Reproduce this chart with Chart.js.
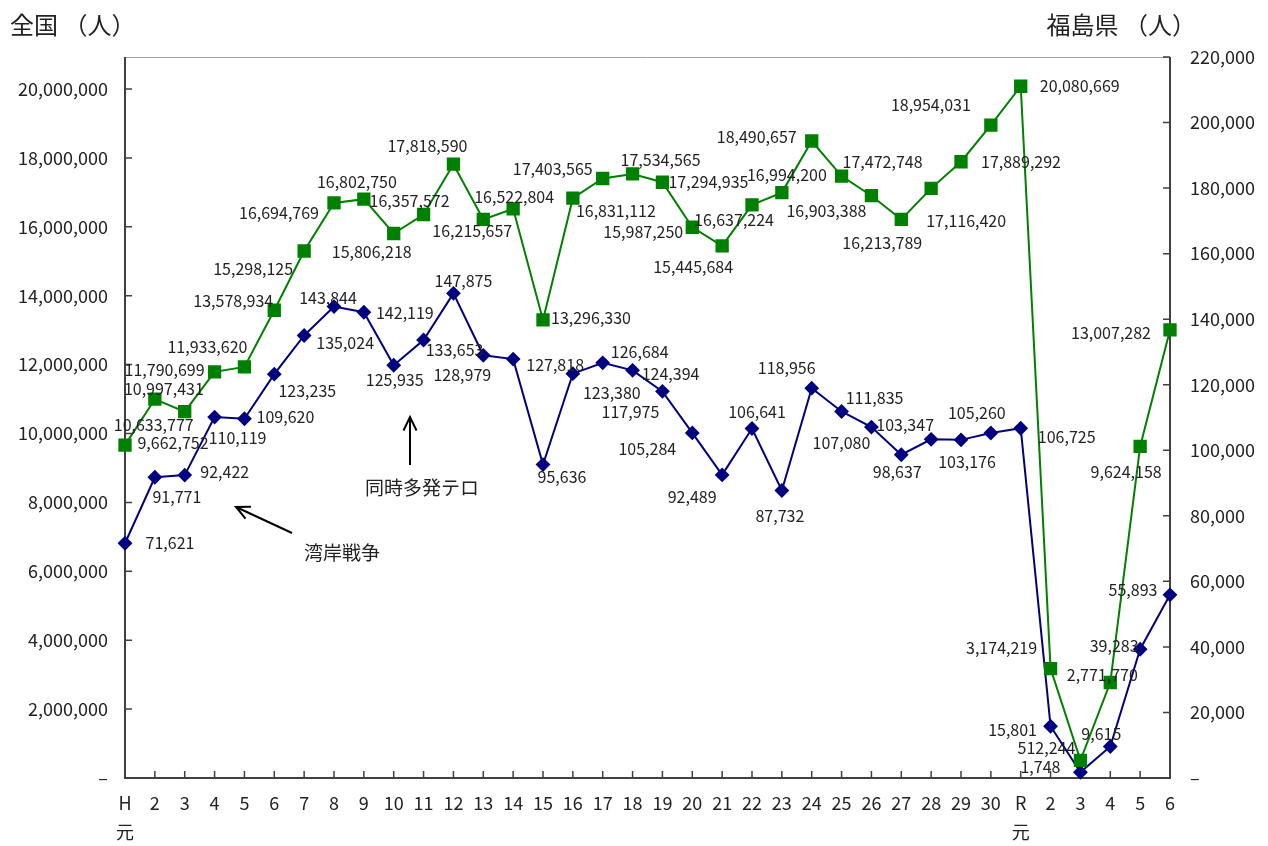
<!DOCTYPE html>
<html>
<head>
<meta charset="utf-8">
<script src="https://cdn.jsdelivr.net/npm/chart.js@4.4.1/dist/chart.umd.min.js"></script>
<style>
  html, body { margin: 0; padding: 0; background: #fff; }
  #wrap { width: 1268px; height: 846px; }
</style>
</head>
<body>
<div id="wrap"><canvas id="chart"></canvas></div>
<script>
// 年度 (平成元年〜令和6年)
const years = [['H', '元'], '2', '3', '4', '5', '6', '7', '8', '9', '10',
  '11', '12', '13', '14', '15', '16', '17', '18', '19', '20',
  '21', '22', '23', '24', '25', '26', '27', '28', '29', '30',
  ['R', '元'], '2', '3', '4', '5', '6'];

// 全国 (人) - left axis
const national = [9662752, 10997431, 10633777, 11790699, 11933620, 13578934, 15298125, 16694769, 16802750, 15806218,
  16357572, 17818590, 16215657, 16522804, 13296330, 16831112, 17403565, 17534565, 17294935, 15987250,
  15445684, 16637224, 16994200, 18490657, 17472748, 16903388, 16213789, 17116420, 17889292, 18954031,
  20080669, 3174219, 512244, 2771770, 9624158, 13007282];

// 福島県 (人) - right axis
const fukushima = [71621, 91771, 92422, 110119, 109620, 123235, 135024, 143844, 142119, 125935,
  133653, 147875, 128979, 127818, 95636, 123380, 126684, 124394, 117975, 105284,
  92489, 106641, 87732, 118956, 111835, 107080, 98637, 103347, 103176, 105260,
  106725, 15801, 1748, 9615, 39283, 55893];

// axis tick values
const leftTicks = [0, 2000000, 4000000, 6000000, 8000000, 10000000, 12000000, 14000000, 16000000, 18000000, 20000000];
const rightTicks = [0, 20000, 40000, 60000, 80000, 100000, 120000, 140000, 160000, 180000, 200000, 220000];
const leftMax = 20930000, rightMax = 220000;

// where each value label sits relative to its marker (px)
const natLabelDx = [48, 9, -31, -50, -37, -41, -51, -55, -7, -22, -14, -26, -11, 1, 48, 43, -50, 28, 46, -49,
  -29, -18, 5, -55, 41, -45, -19, 35, 60, -60, 59, -49, -34, -8, -14, -59];
const natLabelDy = [-2, -10, 13, -2, -20, -9, 18, 10, -17, 18, -14, -18, 12, -12, -2, 13, -10, -14, 0, 5,
  21, 15, -18, -4, -14, 15, 23, 33, 0, -20, 0, -21, -12, -8, 25, 3];
const fukLabelDx = [45, 22, 40, 23, 41, 33, 41, -6, 41, 1, 31, 10, -21, 42, 19, 39, 37, 38, -32, -45,
  -30, 5, -2, -25, 33, -30, -4, -26, 6, -14, 46, -38, -40, -9, -26, -37];
const fukLabelDy = [0, 20, -3, 21, -2, 17, 7, -9, 1, 15, 10, -12, 20, 6, 12, 19, -11, 4, 21, 16,
  22, -17, 25, -20, -14, 16, 17, -14, 22, -20, 9, 4, -5, -13, -3, -5];

const FONT = '"Noto Sans CJK JP", "Noto Sans", sans-serif';
const fmt = v => v === 0 ? '–' : v.toLocaleString('en-US');

function arrow(ctx, x1, y1, x2, y2) {
  const a = Math.atan2(y2 - y1, x2 - x1), len = 15, sp = 0.45;
  ctx.beginPath();
  ctx.moveTo(x1, y1);
  ctx.lineTo(x2, y2);
  ctx.moveTo(x2 - len * Math.cos(a - sp), y2 - len * Math.sin(a - sp));
  ctx.lineTo(x2, y2);
  ctx.lineTo(x2 - len * Math.cos(a + sp), y2 - len * Math.sin(a + sp));
  ctx.stroke();
}

const overlay = {
  id: 'overlay',
  beforeDatasetsDraw(chart) {
    const { ctx, chartArea: a, scales } = chart;
    ctx.save();
    ctx.strokeStyle = '#a0a0a0';
    ctx.lineWidth = 1;
    ctx.beginPath();
    ctx.moveTo(a.left, a.top + 0.5);
    ctx.lineTo(a.right, a.top + 0.5);
    ctx.stroke();
    ctx.strokeStyle = '#404040';
    ctx.lineWidth = 2;
    ctx.beginPath();
    ctx.moveTo(a.left, a.top);
    ctx.lineTo(a.left, a.bottom);
    ctx.lineTo(a.right, a.bottom);
    ctx.lineTo(a.right, a.top);
    ctx.stroke();
    ctx.lineWidth = 1.5;
    ctx.beginPath();
    scales.y.ticks.forEach(t => {
      const y = scales.y.getPixelForValue(t.value);
      ctx.moveTo(a.left, y); ctx.lineTo(a.left + 7, y);
    });
    scales.y2.ticks.forEach(t => {
      const y = scales.y2.getPixelForValue(t.value);
      ctx.moveTo(a.right, y); ctx.lineTo(a.right - 7, y);
    });
    years.forEach((_, i) => {
      const x = scales.x.getPixelForValue(i);
      ctx.moveTo(x, a.bottom); ctx.lineTo(x, a.bottom - 7);
    });
    ctx.stroke();
    ctx.restore();
  },
  afterDatasetsDraw(chart) {
    const ctx = chart.ctx;
    ctx.save();
    ctx.font = '16px ' + FONT;
    ctx.fillStyle = '#222';
    ctx.textAlign = 'center';
    ctx.textBaseline = 'middle';
    [[0, natLabelDx, natLabelDy], [1, fukLabelDx, fukLabelDy]].forEach(([di, dx, dy]) => {
      const vals = chart.data.datasets[di].data;
      chart.getDatasetMeta(di).data.forEach((pt, i) => {
        ctx.fillText(vals[i].toLocaleString('en-US'), pt.x + dx[i], pt.y + dy[i]);
      });
    });
    ctx.restore();
  },
  afterDraw(chart) {
    const ctx = chart.ctx;
    ctx.save();
    ctx.fillStyle = '#222';
    ctx.textBaseline = 'middle';
    ctx.font = '24px ' + FONT;
    ctx.textAlign = 'left';
    ctx.fillText('全国 （人）', 10, 25);
    ctx.textAlign = 'right';
    ctx.fillText('福島県 （人）', 1196, 25);
    // annotations
    ctx.font = '19px ' + FONT;
    ctx.textAlign = 'center';
    ctx.fillText('湾岸戦争', 342, 553);
    ctx.fillText('同時多発テロ', 422, 488);
    ctx.strokeStyle = '#000';
    ctx.lineWidth = 2;
    arrow(ctx, 292, 533, 236, 507);
    arrow(ctx, 410, 465, 410, 417);
    ctx.restore();
  }
};

new Chart(document.getElementById('chart'), {
  type: 'line',
  data: {
    labels: years,
    datasets: [{
      label: '全国',
      data: national,
      yAxisID: 'y',
      borderColor: '#008000',
      backgroundColor: '#008000',
      borderWidth: 2,
      pointStyle: 'rect',
      pointRadius: 8,
      pointHoverRadius: 8,
      tension: 0,
      clip: false
    }, {
      label: '福島県',
      data: fukushima,
      yAxisID: 'y2',
      borderColor: '#000080',
      backgroundColor: '#000080',
      borderWidth: 2,
      pointStyle: 'rectRot',
      pointRadius: 6,
      pointHoverRadius: 6,
      tension: 0,
      clip: false
    }]
  },
  options: {
    responsive: true,
    maintainAspectRatio: false,
    animation: false,
    events: [],
    layout: { padding: { top: 57, left: 0, right: 0, bottom: 0 } },
    plugins: { legend: { display: false }, tooltip: { enabled: false } },
    scales: {
      x: {
        offset: false,
        grid: { display: false, drawTicks: false },
        border: { display: false },
        ticks: {
          autoSkip: false, maxRotation: 0, padding: 10,
          color: '#222', font: { family: FONT, size: 18, lineHeight: 1.65 }
        },
        afterFit: s => { s.height = 68; }
      },
      y: {
        position: 'left',
        min: 0, max: leftMax,
        grid: { display: false, drawTicks: false },
        border: { display: false },
        ticks: {
          autoSkip: false, padding: 17, color: '#222',
          font: { family: FONT, size: 18 },
          callback: v => fmt(v)
        },
        afterBuildTicks: s => { s.ticks = leftTicks.map(v => ({ value: v })); },
        afterFit: s => { s.width = 125; }
      },
      y2: {
        position: 'right',
        min: 0, max: rightMax,
        grid: { display: false, drawTicks: false },
        border: { display: false },
        ticks: {
          autoSkip: false, padding: 20, color: '#222',
          font: { family: FONT, size: 18 },
          callback: v => fmt(v)
        },
        afterBuildTicks: s => { s.ticks = rightTicks.map(v => ({ value: v })); },
        afterFit: s => { s.width = 98; }
      }
    }
  },
  plugins: [overlay]
});
</script>
</body>
</html>
